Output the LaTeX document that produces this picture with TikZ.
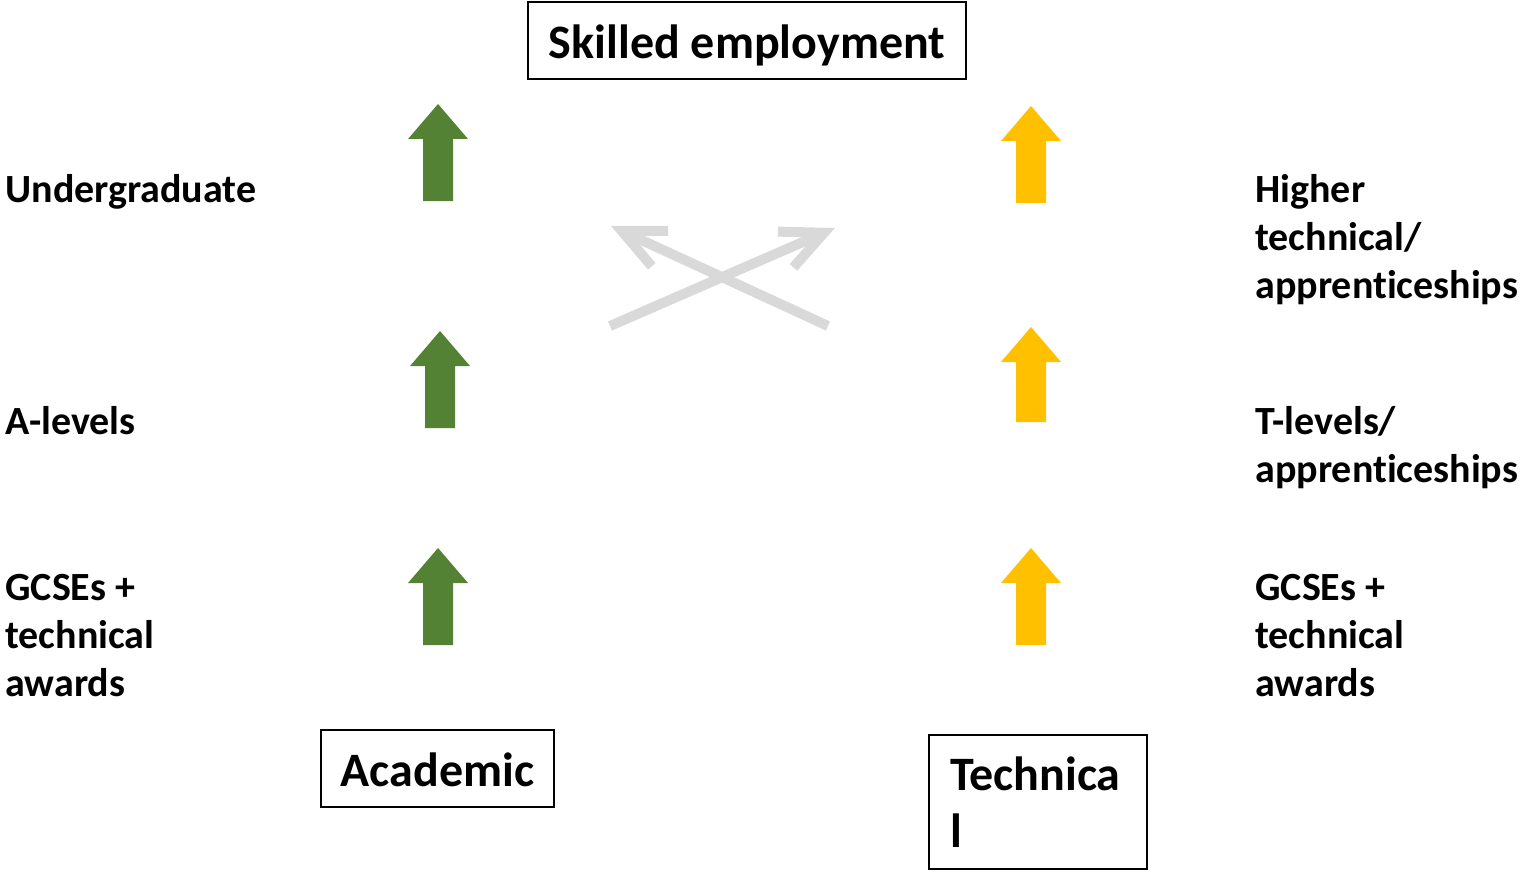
\documentclass[tikz,border=0pt]{standalone}
\usepackage{fontspec}
\setmainfont{Carlito}[Ligatures=NoCommon]
\usepackage{tikz}
\usetikzlibrary{arrows.meta}
\definecolor{acadgreen}{HTML}{548235}
\definecolor{techyellow}{HTML}{FFC000}
\definecolor{crossgrey}{HTML}{D9D9D9}
\tikzset{
	box/.style={draw, line width=1pt, inner sep=0pt, font=\fontsize{24}{28.8}\selectfont\bfseries},
	oneline/.style={text height=22pt, text depth=4pt},
	level/.style={anchor=base west, inner sep=0pt, align=left, font=\fontsize{20}{24}\selectfont\bfseries},
	cross/.style={crossgrey, line width=5pt, -{Straight Barb[length=21pt,width=19.5pt]}}
}

\begin{document}
\begin{tikzpicture}[x=0.5pt,y=-0.5pt]
	\useasboundingbox (0,0) rectangle (1520,872);
	
	% Boxes:
	\node[box, oneline, minimum width=219pt, minimum height=38.5pt] (skilled) at (747,40.5) {Skilled employment};
	\node[box, oneline, minimum width=116.5pt, minimum height=38.5pt] (academic) at (437.5,768.5) {Academic};
	\node[box, minimum width=109pt, minimum height=67pt, text width=88pt, align=left] (technical) at (1038,802) {Technica\\l};
	
	% Levels, left and right (placed at the baseline of the last line):
	\node[level] (ug) at (5,202) {Undergraduate};
	\node[level] (alev) at (5,434) {A-levels};
	\node[level] (gcsel) at (5,696) {GCSEs +\\technical\\awards};
	\node[level] (higher) at (1255,298) {Higher\\technical/\\apprenticeships};
	\node[level] (tlev) at (1255,482) {T-levels/\\apprenticeships};
	\node[level] (gcser) at (1255,696) {GCSEs +\\technical\\awards};
	
	% Block arrows: centre x / tip y / bottom y
	\foreach \cx/\ty/\by in {438/104/201, 440/331/428, 438/548/645}
	{
		\fill[acadgreen] (\cx,\ty) -- (\cx+30,\ty+35) -- (\cx+15,\ty+35) -- (\cx+15,\by)
			-- (\cx-15,\by) -- (\cx-15,\ty+35) -- (\cx-30,\ty+35) -- cycle;
	}
	\foreach \cx/\ty/\by in {1031/106/203, 1031/327/422, 1031/548/645}
	{
		\fill[techyellow] (\cx,\ty) -- (\cx+30,\ty+35) -- (\cx+15,\ty+35) -- (\cx+15,\by)
			-- (\cx-15,\by) -- (\cx-15,\ty+35) -- (\cx-30,\ty+35) -- cycle;
	}
	
	% Crossing arrows:
	\coordinate (crossla) at (828,326);
	\coordinate (crosslb) at (611,226);
	\coordinate (crossra) at (610,326);
	\coordinate (crossrb) at (835,228);
	\draw[cross] (crossla) -- (crosslb);
	\draw[cross] (crossra) -- (crossrb);
	
\end{tikzpicture}
\end{document}
